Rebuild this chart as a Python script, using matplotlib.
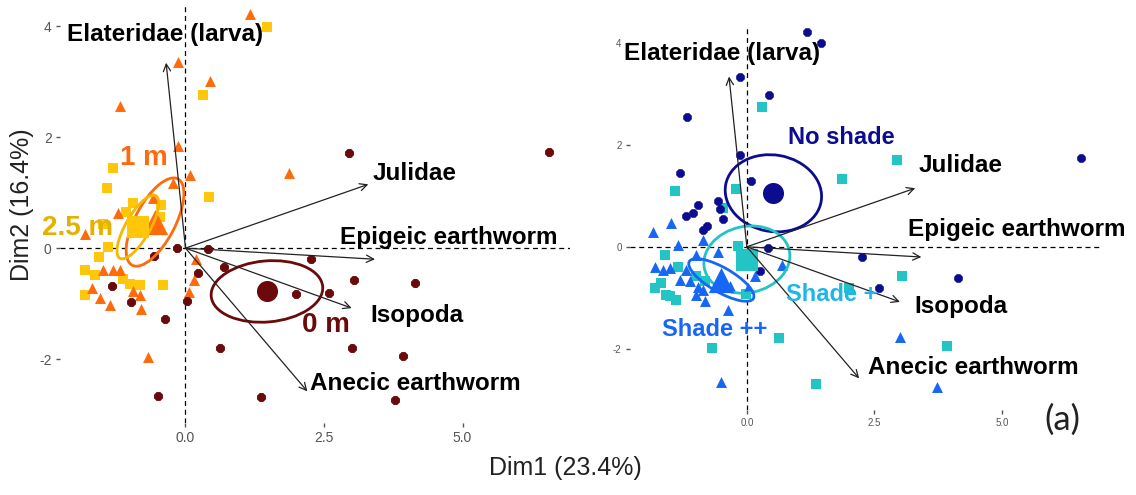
import matplotlib
matplotlib.use("Agg")
import matplotlib.pyplot as plt
from matplotlib.patches import Ellipse

# ---------------- data ----------------
variables = ["Elateridae (larva)", "Julidae", "Epigeic earthworm", "Isopoda", "Anecic earthworm"]
arrow_x = [-0.35, 3.30, 3.42, 3.00, 2.20]
arrow_y = [3.34, 1.15, -0.20, -1.08, -2.58]

# left panel label positions
lab_left_x = [-0.36, 4.14, 4.75, 4.18, 4.14]
lab_left_y = [3.84, 1.35, 0.20, -1.21, -2.43]
# right panel label positions
lab_right_x = [-0.49, 4.18, 5.29, 4.20, 4.43]
lab_right_y = [3.80, 1.59, 0.33, -1.18, -2.37]

# Left panel groups (distance)
g0_x = [2.95, 6.56, -0.16, -0.57, 0.41, 2.26, 0.70, 0.23, 1.99, 2.59, 0.02, -0.37, 0.62, -0.50,
        1.36, 3.04, 4.14, 3.00, 3.92, 3.78, -1.33, -0.99]
g0_y = [1.71, 1.74, 0.00, -0.14, -0.02, -0.20, -0.34, -0.44, -0.83, -0.80, -0.95, -1.27, -1.79, -2.66,
        -2.69, -0.58, -0.62, -1.79, -1.94, -2.74, -0.68, -0.97]

g1_x = [1.16, -0.14, 0.44, -1.18, -0.14, 1.87, 0.09, -0.23, -0.58, -1.21, -1.81, 0.19, 0.16, 0.07,
        -1.48, -1.31, -1.19, -1.68, -0.95, -0.82, -1.54, -1.36, -0.81, -0.67]
g1_y = [4.22, 3.36, 3.01, 2.56, 1.84, 1.35, 1.32, 1.18, 0.90, 0.63, 0.26, -0.20, -0.58, -0.79,
        -0.40, -0.40, -0.40, -0.71, -0.77, -0.85, -0.89, -1.03, -1.09, -1.96]

g25_x = [1.47, 0.32, -1.30, -1.42, 0.43, -0.94, -0.44, -0.46, -1.07, -1.48, -1.39, -1.57, -1.81,
         -1.63, -1.12, -1.81, -1.00, -0.82, -0.40]
g25_y = [3.99, 2.76, 1.45, 1.09, 0.92, 0.81, 0.77, 0.56, 0.65, 0.44, 0.02, -0.16, -0.40,
         -0.49, -0.55, -0.85, -0.64, -0.67, -0.67]

left_names = ["0 m", "1 m", "2.5 m"]
left_mean_x = [1.47, -0.55, -0.86]
left_mean_y = [-0.78, 0.47, 0.38]
left_ell_w = [2.02, 1.76, 1.30]
left_ell_h = [1.10, 0.72, 0.44]
left_ell_angle = [5, 62, 60]
left_lab_x = [2.53, -0.76, -1.94]
left_lab_y = [-1.39, 1.62, 0.36]

# Right panel groups (shade)
ns_x = [1.17, 1.45, -0.14, 0.44, -1.18, -0.14, -1.31, 0.08, -0.95, -1.20, -1.06, -0.56, -0.46,
        -0.86, -0.79, 6.55, 2.25, 4.13, 2.59, 0.42, 0.25, -0.52]
ns_y = [4.21, 3.99, 3.34, 2.97, 2.54, 1.80, 1.44, 1.29, 0.82, 0.61, 0.66, 0.89, 0.55,
        0.33, 0.40, 1.74, -0.19, -0.61, -0.81, -0.03, -0.48, 0.74]

sp_x = [0.30, 1.86, -1.41, -0.22, -0.46, 2.95, 3.05, 3.92, 2.00, 0.63, 1.35, -0.68, -0.18, -1.61,
        -1.35, -1.80, -1.69, -1.58, -1.51, -1.38, -0.99, -0.82, -0.02, 0.12, 0.00]
sp_y = [2.75, 1.33, 1.10, 1.13, 0.77, 1.71, -0.58, -1.95, -0.81, -1.79, -2.69, -1.99, 0.02, -0.16,
        -0.39, -0.80, -0.71, -0.95, -0.97, -1.04, -0.58, -0.68, -0.92, -0.38, -0.25]

spp_x = [-1.48, -1.84, -1.35, -0.86, -0.99, -0.56, -1.80, -1.64, -1.51, -1.20, -1.31, -1.12, -0.95,
         -0.86, -0.99, -0.82, -0.33, -0.37, 0.03, 0.16, 0.68, -0.50, 3.01, 3.72]
spp_y = [0.46, 0.30, 0.04, 0.14, -0.16, -0.11, -0.40, -0.45, -0.42, -0.45, -0.65, -0.68, -0.78,
         -0.84, -0.94, -1.07, -0.76, -1.24, -0.81, -0.58, -0.35, -2.65, -1.77, -2.74]

right_names = ["No shade", "Shade +", "Shade ++"]
right_mean_x = [0.52, 0.0, -0.50]
right_mean_y = [1.05, -0.25, -0.65]
right_ell_w = [1.90, 1.70, 1.45]
right_ell_h = [1.50, 1.30, 0.48]
right_ell_angle = [-10, 12, -30]
right_lab_x = [1.85, 1.66, -0.63]
right_lab_y = [2.14, -0.94, -1.63]

ticks_x = [0.0, 2.5, 5.0]
ticks_y = [-2, 0, 2, 4]

# ---------------- styling ----------------
C0, C1, C25 = "#6A0A0A", "#FF6A0A", "#FFC60A"
C25_txt = "#E6B000"
CNS, CSP, CSPP = "#0C0C8E", "#22C4C4", "#1767F5"
CSP_txt = "#1EB6E6"
TICK_COL = "#555555"
FONT = ["Liberation Sans", "DejaVu Sans"]

fig = plt.figure(figsize=(11.36, 4.95), dpi=100)
axL = fig.add_axes([60 / 1136, 1 - 423 / 495, 510 / 1136, 418 / 495])
axR = fig.add_axes([630 / 1136, 1 - 410 / 495, 472 / 1136, 385 / 495])


def base(ax, xlim, ylim, tick_fs):
    ax.set_xlim(*xlim)
    ax.set_ylim(*ylim)
    for s in ax.spines.values():
        s.set_visible(False)
    ax.set_xticks(ticks_x)
    ax.set_xticklabels([f"{t:.1f}" for t in ticks_x])
    ax.set_yticks(ticks_y)
    ax.set_yticklabels([str(t) for t in ticks_y])
    ax.tick_params(colors=TICK_COL, labelcolor=TICK_COL, labelsize=tick_fs,
                   length=3, width=1, pad=3)
    for lab in ax.get_xticklabels() + ax.get_yticklabels():
        lab.set_family(FONT)
    ax.axhline(0, color="black", ls=(0, (4, 3)), lw=0.9, zorder=1)
    ax.axvline(0, color="black", ls=(0, (4, 3)), lw=0.9, zorder=1)


def arrows(ax, lx, ly):
    for name, ax_, ay_, tx, ty in zip(variables, arrow_x, arrow_y, lx, ly):
        ax.annotate("", xy=(ax_, ay_), xytext=(0, 0),
                    arrowprops=dict(arrowstyle="->", lw=0.9, color="#222222",
                                    mutation_scale=13, shrinkA=0, shrinkB=0),
                    zorder=5)
        ax.text(tx, ty, name, ha="center", va="center", fontsize=17.5,
                fontweight="bold", family=FONT, color="black", zorder=6)


base(axL, (-2.265, 6.94), (-3.15, 4.38), 10)
base(axR, (-2.29, 6.96), (-3.2, 4.35), 7)

# left panel points
axL.scatter(g25_x, g25_y, marker="s", s=45, color=C25, lw=0, zorder=3)
axL.scatter(g1_x, g1_y, marker="^", s=62, color=C1, lw=0, zorder=3)
axL.scatter(g0_x, g0_y, marker="8", s=48, color=C0, lw=0, zorder=3)

left_cols = [C0, C1, "#F5B800"]
left_markers = ["o", "^", "s"]
left_msize = [230, 330, 240]
left_txt = [C0, C1, C25_txt]
for i in range(3):
    axL.add_patch(Ellipse((left_mean_x[i], left_mean_y[i]), left_ell_w[i], left_ell_h[i],
                          angle=left_ell_angle[i], fill=False, lw=2, ec=left_cols[i], zorder=4))
    axL.scatter([left_mean_x[i]], [left_mean_y[i]], marker=left_markers[i], s=left_msize[i],
                color=[C0, C1, C25][i], lw=0, zorder=4)
    axL.text(left_lab_x[i], left_lab_y[i], left_names[i], ha="center", va="center",
             fontsize=20, fontweight="bold", family=FONT, color=left_txt[i], zorder=6)
arrows(axL, lab_left_x, lab_left_y)

# right panel points
axR.scatter(sp_x, sp_y, marker="s", s=42, color=CSP, lw=0, zorder=3)
axR.scatter(spp_x, spp_y, marker="^", s=62, color=CSPP, lw=0, zorder=3)
axR.scatter(ns_x, ns_y, marker="8", s=45, color=CNS, lw=0, zorder=3)

right_cols = [CNS, CSP, CSPP]
right_markers = ["o", "s", "^"]
right_msize = [230, 240, 330]
right_txt = [CNS, CSP_txt, CSPP]
for i in range(3):
    axR.add_patch(Ellipse((right_mean_x[i], right_mean_y[i]), right_ell_w[i], right_ell_h[i],
                          angle=right_ell_angle[i], fill=False, lw=2, ec=right_cols[i], zorder=4))
    axR.scatter([right_mean_x[i]], [right_mean_y[i]], marker=right_markers[i], s=right_msize[i],
                color=right_cols[i], lw=0, zorder=4)
    axR.text(right_lab_x[i], right_lab_y[i], right_names[i], ha="center", va="center",
             fontsize=17, fontweight="bold", family=FONT, color=right_txt[i], zorder=6)
arrows(axR, lab_right_x, lab_right_y)

fig.text(565 / 1136, 1 - 468 / 495, "Dim1 (23.4%)", ha="center", va="center",
         fontsize=18, family=FONT, color="#222222")
fig.text(22 / 1136, 1 - 205 / 495, "Dim2 (16.4%)", ha="center", va="center",
         rotation=90, fontsize=18, family=FONT, color="#222222")
fig.text(1062 / 1136, 1 - 420 / 495, "(a)", ha="center", va="center",
         fontsize=25, family=["Lato", "DejaVu Sans"], color="#222222")

fig.savefig("out.png", dpi=100)
